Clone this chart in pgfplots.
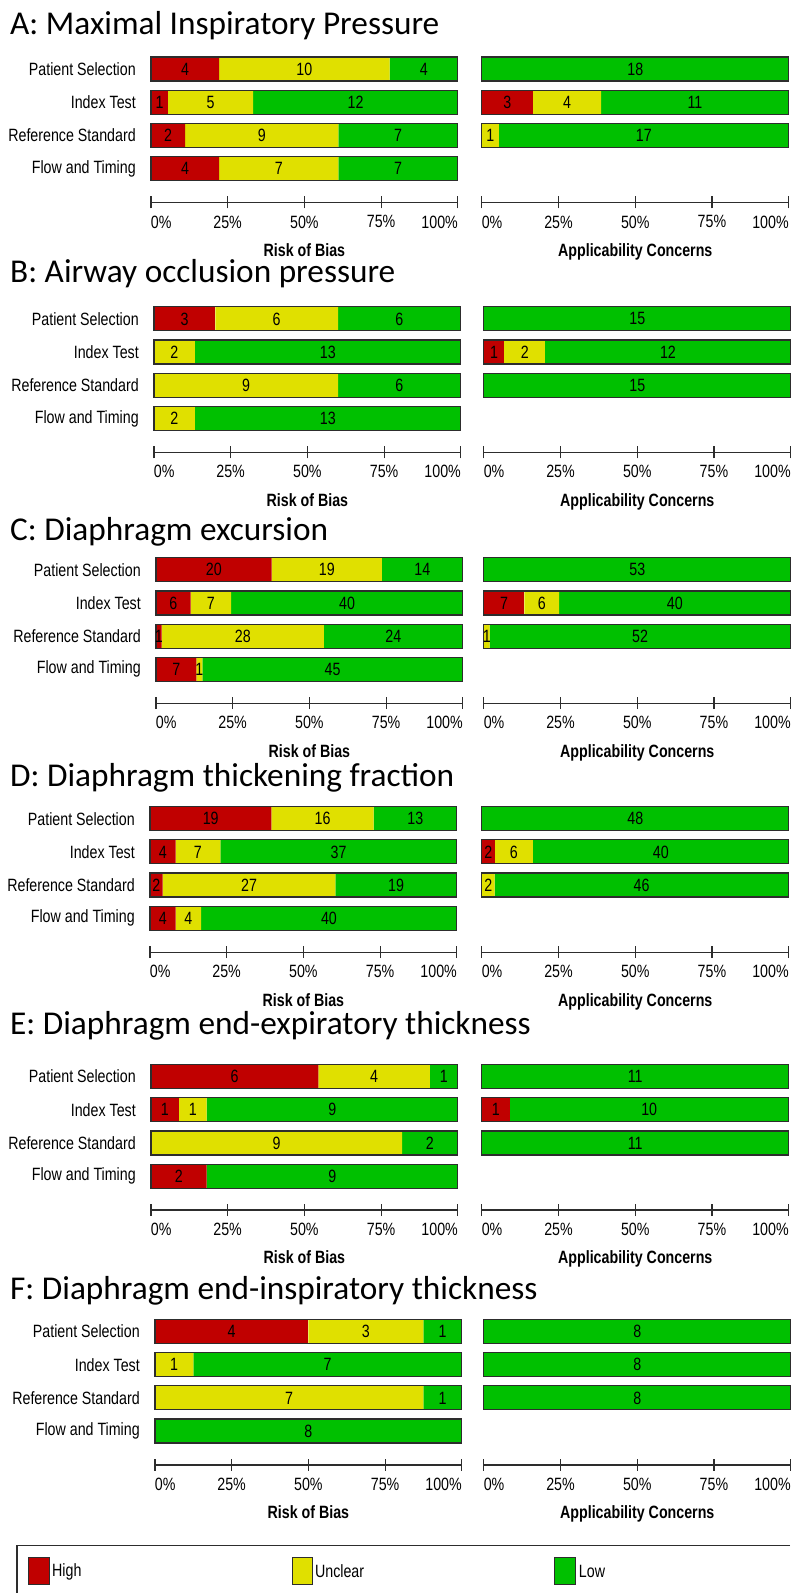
\documentclass[border=0pt]{standalone}
\usepackage{fontspec}
\usepackage{pgfplots}
\usepackage{pgfplotstable}
\pgfplotsset{compat=1.18}
\setmainfont{Liberation Sans}[FakeStretch=0.8]
\newfontfamily\titlefont{Carlito}
\definecolor{qhigh}{RGB}{192,0,0}
\definecolor{qunclear}{RGB}{224,224,0}
\definecolor{qlow}{RGB}{0,192,0}
\definecolor{axgray}{RGB}{45,45,45}
\newcommand\lblfont{\fontsize{17.8}{20}\selectfont}

% rows: 3 = Patient Selection ... 0 = Flow and Timing
\pgfplotstableread{
row high unclear low
3 4 10 4
2 1 5 12
1 2 9 7
0 4 7 7
}\Arob
\pgfplotstableread{
row high unclear low
3 0 0 18
2 3 4 11
1 0 1 17
}\Aac
\pgfplotstableread{
row high unclear low
3 3 6 6
2 0 2 13
1 0 9 6
0 0 2 13
}\Brob
\pgfplotstableread{
row high unclear low
3 0 0 15
2 1 2 12
1 0 0 15
}\Bac
\pgfplotstableread{
row high unclear low
3 20 19 14
2 6 7 40
1 1 28 24
0 7 1 45
}\Crob
\pgfplotstableread{
row high unclear low
3 0 0 53
2 7 6 40
1 0 1 52
}\Cac
\pgfplotstableread{
row high unclear low
3 19 16 13
2 4 7 37
1 2 27 19
0 4 4 40
}\Drob
\pgfplotstableread{
row high unclear low
3 0 0 48
2 2 6 40
1 0 2 46
}\Dac
\pgfplotstableread{
row high unclear low
3 6 4 1
2 1 1 9
1 0 9 2
0 2 0 9
}\Erob
\pgfplotstableread{
row high unclear low
3 0 0 11
2 1 0 10
1 0 0 11
}\Eac
\pgfplotstableread{
row high unclear low
3 4 3 1
2 0 1 7
1 0 7 1
0 0 0 8
}\Frob
\pgfplotstableread{
row high unclear low
3 0 0 8
2 0 0 8
1 0 0 8
}\Fac

\pgfplotsset{
  geom/.style={
    scale only axis, width=307pt, height=145.5pt,
    anchor=north west, xmin=0, ymin=-1.021, ymax=3.3614,
    bar width=24pt, clip=false,
  },
  quadas/.style={
    geom, xbar stacked,
    axis x line*=bottom, axis y line*=left,
    y axis line style={draw=none},
    x axis line style={line width=1.2pt, draw=axgray},
    xtick style={line width=1.2pt, draw=axgray},
    ytick style={draw=none},
    tick align=center, major tick length=12pt,
    ytick={0,1,2,3},
    yticklabels={},
    xticklabels={\makebox[0pt][l]{0\%},25\%,50\%,75\%,\makebox[0pt][r]{100\%}},
    tick label style={font=\lblfont},
    xticklabel style={inner sep=0pt, anchor=north, yshift=-7pt},
    yticklabel style={inner sep=0pt, anchor=east, xshift=-9pt},
    label style={font=\lblfont\bfseries},
    xlabel style={inner sep=0pt, yshift=-15pt},
  },
  hidden/.style={geom, hide axis},
  seg/.style={fill=#1, draw=none},
  lbl/.style={
    draw=none, mark=none,
    visualization depends on={\thisrow{#1} \as \segw},
    nodes near coords={\ifdim\segw pt>0pt\pgfmathprintnumber[fixed,precision=0,assume math mode=true]{\segw}\fi},
    every node near coord/.style={font=\lblfont, anchor=center, text=black, inner sep=0pt},
  },
  box/.style={xbar, bar shift=0pt, fill=none, draw=axgray, line width=1.2pt},
}

% stacked segments, then outline and centred counts in a hidden axis on top
\newcommand\bars[1]{%
    \addplot[seg=qhigh] table[x=high,y=row]{#1};
    \addplot[seg=qunclear] table[x=unclear,y=row]{#1};
    \addplot[seg=qlow] table[x=low,y=row]{#1};
}
\newcommand\labels[1]{%
    \addplot[box] table[x expr=\thisrow{high}+\thisrow{unclear}+\thisrow{low},y=row]{#1};
    \addplot[lbl=high] table[x expr=0.5*\thisrow{high},y=row]{#1};
    \addplot[lbl=unclear] table[x expr=\thisrow{high}+0.5*\thisrow{unclear},y=row]{#1};
    \addplot[lbl=low] table[x expr=\thisrow{high}+\thisrow{unclear}+0.5*\thisrow{low},y=row]{#1};
}

% #1 title, #2 title baseline, #3 left x, #4 top y, #5 N, #6 ticks, #7 rob table, #8 ac table, #9 right x
\newcommand\qpanel[9]{%
  \node[anchor=base west, inner sep=0pt, font=\titlefont\fontsize{33.3}{38}\selectfont] at (10pt,-#2pt) {#1};
  \begin{axis}[quadas, at={(#3pt,-#4pt)}, xmax=#5, xtick={#6},
      yticklabels={Flow and Timing,Reference Standard,Index Test,Patient Selection},
      xlabel={Risk of Bias}]
    \bars{#7}
  \end{axis}
  \begin{axis}[hidden, at={(#3pt,-#4pt)}, xmax=#5]
    \labels{#7}
  \end{axis}
  \begin{axis}[quadas, at={(#9pt,-#4pt)}, xmax=#5, xtick={#6},
      xlabel={Applicability Concerns}]
    \bars{#8}
  \end{axis}
  \begin{axis}[hidden, at={(#9pt,-#4pt)}, xmax=#5]
    \labels{#8}
  \end{axis}
}

\begin{document}
\begin{tikzpicture}
\qpanel{A: Maximal Inspiratory Pressure}{35}{151}{57}{18}{0,4.5,9,13.5,18}{\Arob}{\Aac}{482}
\qpanel{B: Airway occlusion pressure}{283}{154}{307}{15}{0,3.75,7.5,11.25,15}{\Brob}{\Bac}{484}
\qpanel{C: Diaphragm excursion}{541}{156}{558}{53}{0,13.25,26.5,39.75,53}{\Crob}{\Cac}{484}
\qpanel{D: Diaphragm thickening fraction}{787}{150}{807}{48}{0,12,24,36,48}{\Drob}{\Dac}{482}
\qpanel{E: Diaphragm end-expiratory thickness}{1035}{151}{1065}{11}{0,2.75,5.5,8.25,11}{\Erob}{\Eac}{482}
\qpanel{F: Diaphragm end-inspiratory thickness}{1300}{155}{1320}{8}{0,2,4,6,8}{\Frob}{\Fac}{484}

% legend (its box runs past the bottom and right edges)
\draw[line width=1.2pt, axgray] (790.4pt,-1546pt) -- (17pt,-1546pt) -- (17pt,-1594pt);
\draw[fill=qhigh, draw=axgray, line width=1pt] (29pt,-1558pt) rectangle (50pt,-1585pt);
\node[anchor=west, inner sep=0pt, font=\lblfont] at (52pt,-1572pt) {High};
\draw[fill=qunclear, draw=axgray, line width=1pt] (293pt,-1558pt) rectangle (313pt,-1585pt);
\node[anchor=west, inner sep=0pt, font=\lblfont] at (315pt,-1572pt) {Unclear};
\draw[fill=qlow, draw=axgray, line width=1pt] (555pt,-1558pt) rectangle (576pt,-1585pt);
\node[anchor=west, inner sep=0pt, font=\lblfont] at (579pt,-1572pt) {Low};
\path (0,0) rectangle (791pt,-1594pt);
\end{tikzpicture}
\end{document}
